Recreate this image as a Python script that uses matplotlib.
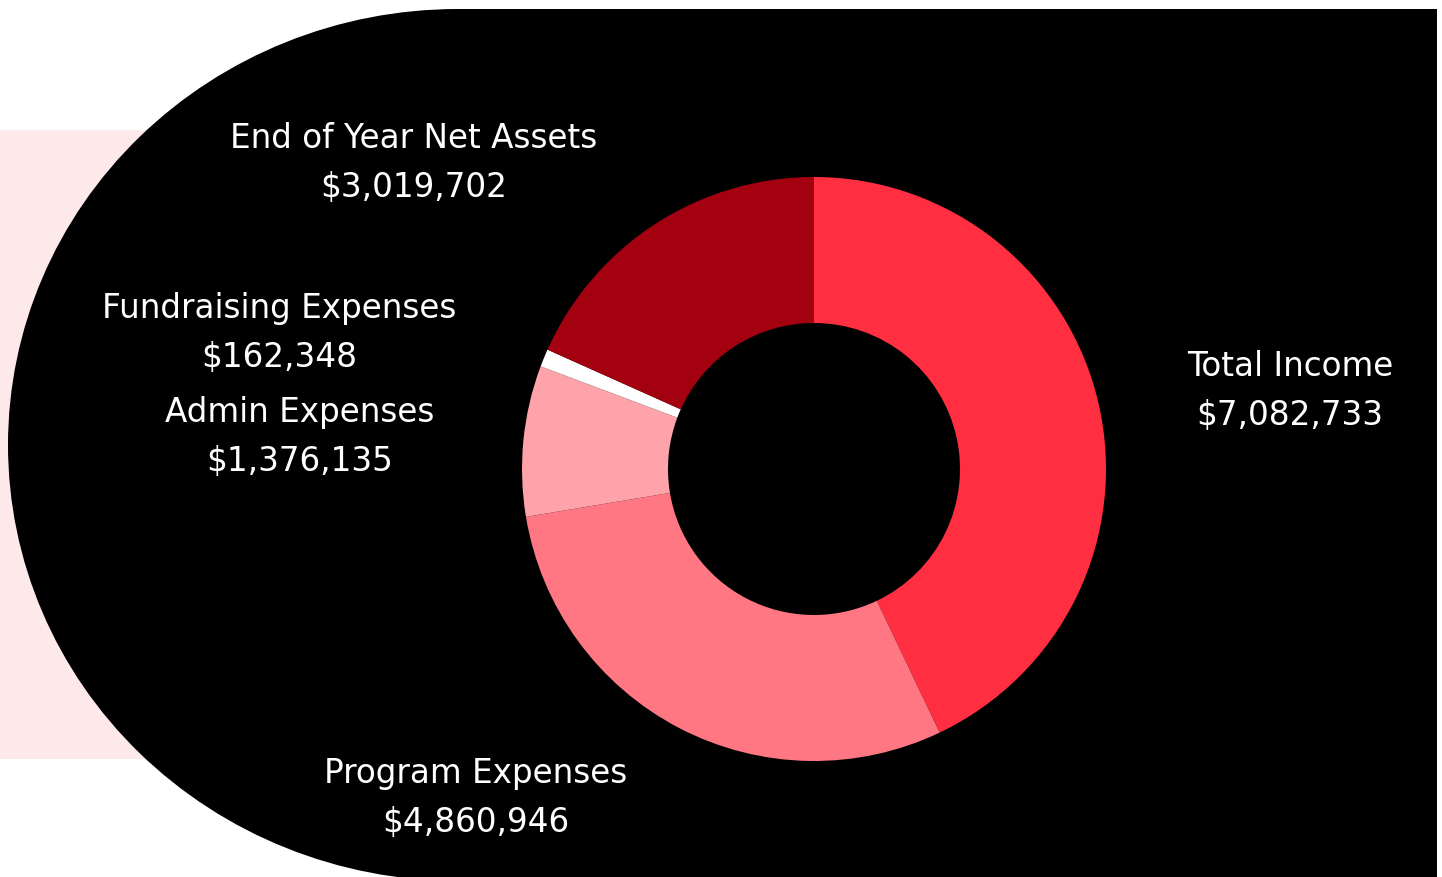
import matplotlib
matplotlib.use("Agg")
import matplotlib.pyplot as plt
import matplotlib.patches as patches

plt.rcParams['font.family'] = ['DejaVu Sans']

# Data
categories = ["Total Income", "Program Expenses", "Admin Expenses",
              "Fundraising Expenses", "End of Year Net Assets"]
values = [7082733, 4860946, 1376135, 162348, 3019702]
slice_colors = ["#ff2e40", "#ff7782", "#ffa3aa", "#ffffff", "#a30010"]

# label placement in pixel coords (x center, baseline of first line)
label_pos = {
    "Total Income": (1290, 376),
    "Program Expenses": (476, 783),
    "Admin Expenses": (300, 422),
    "Fundraising Expenses": (279, 318),
    "End of Year Net Assets": (414, 148),
}

W, H = 1442, 878
fig = plt.figure(figsize=(W / 100, H / 100), dpi=100)
fig.patch.set_facecolor("white")

# background layer, pixel coordinates
bg = fig.add_axes([0, 0, 1, 1])
bg.set_xlim(0, W)
bg.set_ylim(H, 0)
bg.axis("off")

bg.add_patch(patches.Rectangle((0, 131), 200, 629, color="#fde8ea", lw=0))
bg.add_patch(patches.Ellipse((458, 446), 900, 872, color="black", lw=0))
bg.add_patch(patches.Rectangle((458, 10), 1437 - 458, H, color="black", lw=0))

# donut
cx, cy, r = 814, 470, 292
pie_ax = fig.add_axes([(cx - r) / W, (H - cy - r) / H, 2 * r / W, 2 * r / H])
pie_ax.pie(values, colors=slice_colors, startangle=90, counterclock=False,
           radius=1, wedgeprops=dict(width=0.5, linewidth=0))
pie_ax.set_xlim(-1, 1)
pie_ax.set_ylim(-1, 1)
pie_ax.axis("off")

for name, val in zip(categories, values):
    x, y = label_pos[name]
    bg.text(x, y, name, color="white", fontsize=23.5, ha="center", va="baseline")
    bg.text(x, y + 49, f"${val:,}", color="white", fontsize=23.5,
            ha="center", va="baseline")

plt.savefig("out.png", dpi=100)
